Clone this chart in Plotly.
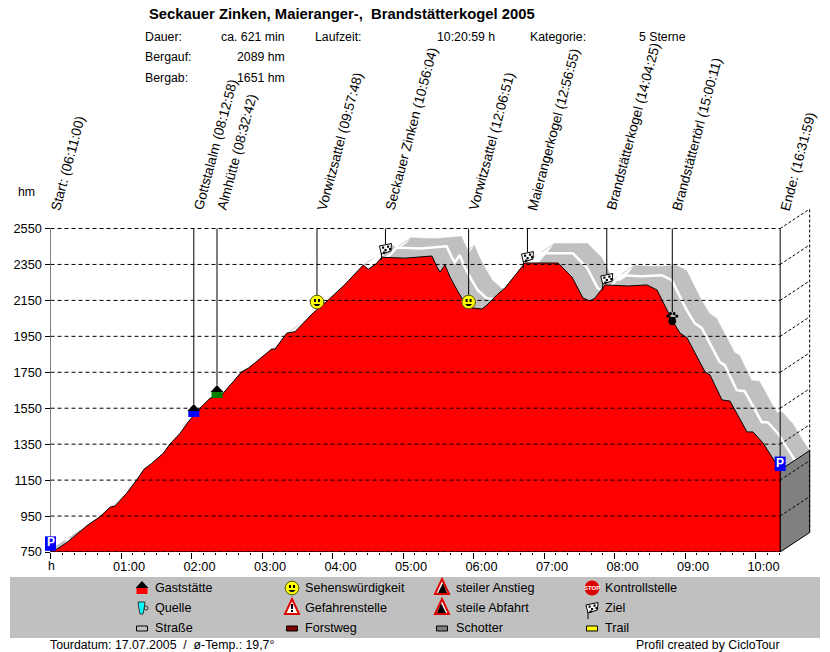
#!/usr/bin/env python3
"""Elevation profile of the Seckauer Zinken tour, CicloTour style."""

import plotly.graph_objects as go

FONT = "Liberation Sans"
W, H = 830, 652

# profile: hours since start, height in hm
profile_hours = [0.0, 0.088, 0.23, 0.395, 0.513, 0.70, 0.844, 0.915, 1.08, 1.223, 1.326, 1.435,
                 1.60, 1.695, 1.837, 1.955, 2.12, 2.262, 2.428, 2.593, 2.712, 2.806, 2.948,
                 3.137, 3.184, 3.35, 3.468, 3.61, 3.728, 3.94, 4.18, 4.437, 4.508, 4.627, 4.698,
                 5.03, 5.41, 5.482, 5.525, 5.596, 5.667, 5.766, 5.851, 5.979, 6.121, 6.191,
                 6.33, 6.447, 6.73, 7.2, 7.397, 7.553, 7.652, 7.723, 7.865, 8.191, 8.46, 8.603,
                 8.674, 8.816, 8.93, 9.03, 9.284, 9.355, 9.525, 9.638, 9.88, 9.965, 10.106,
                 10.277, 10.35]
profile_hm = [762, 765, 802, 854, 895, 946, 999, 1006, 1077, 1151, 1210, 1243,
              1299, 1351, 1410, 1475, 1550, 1605, 1624, 1698, 1753, 1772, 1818,
              1879, 1879, 1967, 1976, 2031, 2081, 2152, 2240, 2347, 2323, 2356, 2390,
              2385, 2397, 2336, 2308, 2347, 2280, 2208, 2152, 2108, 2102, 2124,
              2180, 2219, 2358, 2358, 2280, 2163, 2147, 2163, 2236, 2230, 2236, 2208,
              2152, 2041, 1968, 1941, 1752, 1735, 1596, 1590, 1418, 1418, 1357,
              1246, 1206]

y_ticks = [750, 950, 1150, 1350, 1550, 1750, 1950, 2150, 2350, 2550]
x_ticks = [0, 1, 2, 3, 4, 5, 6, 7, 8, 9, 10]
x_tick_labels = ["", "01:00", "02:00", "03:00", "04:00", "05:00", "06:00", "07:00", "08:00", "09:00", "10:00"]

start_clock = "06:11:00"
event_names = ["Gottstalalm", "Almhütte", "Vorwitzsattel", "Seckauer Zinken", "Vorwitzsattel",
               "Maierangerkogel", "Brandstätterkogel", "Brandstättertörl"]
event_clocks = ["08:12:58", "08:32:42", "09:57:48", "10:56:04", "12:06:51",
                "12:56:55", "14:04:25", "15:00:11"]
event_hm = [1529, 1635, 2141, 2397, 2141, 2352, 2230, 2046]
event_icons = ["house_blue", "house_green", "smile", "flag", "smile", "flag", "flag", "paw"]
end_clock = "16:31:59"

legend_rows = [
    [("house_red", "Gaststätte"), ("smile", "Sehenswürdigkeit"), ("climb", "steiler Anstieg"), ("stop", "Kontrollstelle")],
    [("spring", "Quelle"), ("danger", "Gefahrenstelle"), ("descent", "steile Abfahrt"), ("flag", "Ziel")],
    [("road", "Straße"), ("forest", "Forstweg"), ("gravel", "Schotter"), ("trail", "Trail")],
]

# pixel frame of the drawing
LEFT, BOTTOM = 50.5, 552.0
PX_PER_HOUR = 70.5
PX_PER_HM = 323.5 / 1800
DEPTH_X, DEPTH_Y = 29.5, 19.5
TOP_PX = 206.0
RIGHT_PX = 812.0
TEXT_SIZE = 12.3
LEGEND_SIZE = 12.6
SLANT_SIZE = 13.6
SLANT_ANGLE = -75
SLANT_NUDGE = -2.5
TICK_SIZE = 12.8


def hours(clock):
    h, m, s = [int(p) for p in clock.split(":")]
    h0, m0, s0 = [int(p) for p in start_clock.split(":")]
    return (h + m / 60 + s / 3600) - (h0 + m0 / 60 + s0 / 3600)


def px_x(t):
    return LEFT + t * PX_PER_HOUR


def px_y(e):
    return BOTTOM - (e - 750) * PX_PER_HM


end_t = hours(end_clock)
depth_t = DEPTH_X / PX_PER_HOUR
depth_e = DEPTH_Y / PX_PER_HM

fig = go.Figure()


def line(xs, ys, color="black", width=1, dash=None):
    fig.add_trace(go.Scatter(x=xs, y=ys, mode="lines", hoverinfo="skip", showlegend=False,
                             line=dict(color=color, width=width, dash=dash)))


def band(color, dt, de):
    # one quad per profile segment so that overlaps in the valleys stay filled
    xs, ys = [], []
    for i in range(len(profile_hours) - 1):
        t0, t1 = profile_hours[i], profile_hours[i + 1]
        e0, e1 = profile_hm[i], profile_hm[i + 1]
        xs += [t0, t1, t1 + dt, t0 + dt, t0, None]
        ys += [e0, e1, e1 + de, e0 + de, e0, None]
    fig.add_trace(go.Scatter(x=xs, y=ys, mode="lines", fill="toself", fillcolor=color, hoverinfo="skip",
                             showlegend=False, line=dict(color=color, width=0.5)))


# road surface behind the profile
band("#C0C0C0", depth_t, depth_e)
line([t + depth_t * 0.5 for t in profile_hours], [e + depth_e * 0.5 for e in profile_hm], "white", 2.5)

# right wall
fig.add_trace(go.Scatter(x=[end_t, end_t + depth_t, end_t + depth_t, end_t, end_t],
                         y=[profile_hm[-1], profile_hm[-1] + depth_e, 750 + depth_e, 750, profile_hm[-1]],
                         mode="lines", fill="toself", fillcolor="#808080", hoverinfo="skip",
                         showlegend=False, line=dict(color="black", width=1)))

# the profile itself
fig.add_trace(go.Scatter(x=profile_hours, y=profile_hm, mode="lines", fill="tozeroy", fillcolor="#FF0000",
                         hoverinfo="skip", showlegend=False, line=dict(color="black", width=1)))

# grid on top of everything, also running back along the side
for v in y_ticks:
    line([0, end_t], [v, v], dash="4px,3px")
    if v > 750:
        line([end_t, end_t + depth_t], [v, v + depth_e], dash="3px,2px")
line([end_t + depth_t, end_t + depth_t], [750 + depth_e, 2550 + depth_e], dash="3px,2px")
line([0, end_t], [750, 750])
line([0, 0], [750, 2550])
line([end_t, end_t], [750, 2550])

shapes = []
texts = []


def X(px):
    return px / W


def Y(py):
    return 1 - py / H


def note(x, y, text, size=TEXT_SIZE, xanchor="left", yanchor="middle", bold=False, angle=0, color="black"):
    if bold:
        text = "<b>" + text + "</b>"
    texts.append(dict(x=X(x), y=Y(y), xref="paper", yref="paper", text=text, showarrow=False,
                      xanchor=xanchor, yanchor=yanchor, textangle=angle, borderpad=0, borderwidth=0,
                      font=dict(family=FONT, size=size, color=color)))


def slanted(x, text):
    note(x + SLANT_NUDGE, 212, text, size=SLANT_SIZE, xanchor="left", yanchor="bottom", angle=SLANT_ANGLE)


def poly(pts, fill="black", edge=None, width=1):
    path = "M " + " L ".join(f"{X(a):.5f} {Y(b):.5f}" for a, b in pts) + " Z"
    shapes.append(dict(type="path", path=path, xref="paper", yref="paper", fillcolor=fill,
                       line=dict(color=edge if edge else fill, width=width if edge else 0)))


def disc(cx, cy, r, fill, edge=None, width=1):
    shapes.append(dict(type="circle", xref="paper", yref="paper",
                       x0=X(cx - r), x1=X(cx + r), y0=Y(cy + r), y1=Y(cy - r), fillcolor=fill,
                       line=dict(color=edge if edge else fill, width=width if edge else 0)))


def box(x0, y0, x1, y1, fill, edge=None, width=1):
    poly([(x0, y0), (x1, y0), (x1, y1), (x0, y1)], fill, edge, width)


def icon(kind, cx, cy):
    if kind.startswith("house"):
        base = {"house_blue": "#0000FF", "house_green": "#008000", "house_red": "#FF0000"}[kind]
        box(cx - 5.5, cy, cx + 5.5, cy + 6, base)
        poly([(cx, cy - 7), (cx + 6.5, cy), (cx - 6.5, cy)])
    elif kind == "smile":
        disc(cx, cy, 6.8, "#FFFF00", "#555500", 1)
        box(cx - 3, cy - 3, cx - 1, cy, "black")
        box(cx + 1, cy - 3, cx + 3, cy, "black")
        poly([(cx - 3.5, cy + 2), (cx + 3.5, cy + 2), (cx + 1.5, cy + 4), (cx - 1.5, cy + 4)], "black")
    elif kind == "flag":
        poly([(cx - 4.5, cy + 4), (cx - 3.5, cy + 4), (cx - 3.5, cy + 11), (cx - 4.5, cy + 11)])
        poly([(cx - 6, cy - 3), (cx + 6, cy - 5.5), (cx + 5.5, cy + 2), (cx - 4, cy + 5)], "white", "black", 1)
        for a, b in [(-3.5, -2.5), (1.5, -3.5), (-1, 0), (3.5, -1), (-2.5, 2.5)]:
            box(cx + a, cy + b, cx + a + 2.2, cy + b + 2.2, "black")
    elif kind == "paw":
        poly([(cx - 3, cy - 2), (cx + 3, cy - 2), (cx + 4, cy + 3), (cx + 2, cy + 6), (cx - 2, cy + 6), (cx - 4, cy + 3)])
        disc(cx - 4.5, cy - 3, 1.6, "black")
        disc(cx - 1.8, cy - 5.5, 1.6, "black")
        disc(cx + 1.8, cy - 5.5, 1.6, "black")
        disc(cx + 4.5, cy - 3, 1.6, "black")
    elif kind == "parking":
        box(cx - 5.5, cy - 7.5, cx + 5.5, cy + 7, "#0000FF")
        note(cx, cy - 1.5, "P", size=12, xanchor="center", bold=True, color="white")
    elif kind == "spring":
        disc(cx + 4, cy, 2, "#C0C0C0", "#333333", 1)
        poly([(cx - 4, cy - 6), (cx + 3, cy - 6), (cx + 2, cy + 1), (cx + 1, cy + 6), (cx - 2, cy + 6), (cx - 3, cy + 1)],
             "#00FFFF", "#333333", 1)
    elif kind == "danger":
        poly([(cx, cy - 9), (cx + 7, cy + 6), (cx - 7, cy + 6)], "white", "#DD0000", 2)
        box(cx - 1, cy - 4, cx + 1, cy + 1, "black")
        box(cx - 1, cy + 2, cx + 1, cy + 4, "black")
    elif kind in ("climb", "descent"):
        poly([(cx, cy - 9), (cx + 7, cy + 6), (cx - 7, cy + 6)], "white", "#DD0000", 2)
        if kind == "climb":
            poly([(cx - 4, cy + 5), (cx + 1, cy - 5), (cx + 5, cy + 5)])
        else:
            poly([(cx - 1, cy - 5), (cx + 4, cy + 5), (cx - 5, cy + 5)])
    elif kind == "stop":
        disc(cx, cy, 7.5, "#DD0000")
        note(cx, cy, "STOP", size=6, xanchor="center", bold=True, color="white")
    else:
        fill = {"road": "#C0C0C0", "forest": "#800000", "gravel": "#808080", "trail": "#FFFF00"}[kind]
        box(cx - 5.5, cy - 2, cx + 5.5, cy + 3, fill, "black", 1)


# grey legend panel
box(10, 577, 820, 638, "#C0C0C0")

# stems with their icons and slanted labels
slanted(LEFT, f"Start: ({start_clock})")
for name, clock, e, kind in zip(event_names, event_clocks, event_hm, event_icons):
    t = hours(clock)
    x, y = px_x(t), px_y(e)
    if kind.startswith("house"):
        cy = y - 1
        top = cy - 7
    elif kind == "smile":
        cy = y
        top = cy - 7
    elif kind == "flag":
        cy = y - 7
        top = cy - 5
    else:
        cy = y
        top = cy - 7
    line([t, t], [2550, 750 + (BOTTOM - top) / PX_PER_HM])
    icon(kind, x, cy)
    slanted(x, f"{name} ({clock})")
slanted(px_x(end_t), f"Ende: ({end_clock})")
icon("parking", px_x(0), px_y(profile_hm[0]) - 6)
icon("parking", px_x(end_t), px_y(profile_hm[-1]) - 6)

# header block
note(149, 13.5, "Seckauer Zinken, Maieranger-,  Brandstätterkogel 2005", size=14.8, bold=True)
note(145, 37.5, "Dauer:")
note(145, 57.5, "Bergauf:")
note(145, 77.5, "Bergab:")
note(285, 37.5, "ca. 621 min", xanchor="right")
note(285, 57.5, "2089 hm", xanchor="right")
note(285, 77.5, "1651 hm", xanchor="right")
note(315, 37.5, "Laufzeit:")
note(437, 37.5, "10:20:59 h")
note(530, 37.5, "Kategorie:")
note(639, 37.5, "5 Sterne")
note(18, 192, "hm")
note(51.5, 566, "h", xanchor="center")

# legend and footer
for row, cy in zip(legend_rows, [588, 608, 628]):
    for (kind, label), cx, tx in zip(row, [142, 292, 442, 592], [155, 305, 455.5, 605]):
        icon(kind, cx, cy)
        note(tx, cy - 0.5, label, size=LEGEND_SIZE)
note(50, 645, "Tourdatum: 17.07.2005  /  ø-Temp.: 19,7°")
note(780, 645, "Profil created by CicloTour", xanchor="right")

minor_ticks = [i / 6 for i in range(63) if i % 6 != 0]

fig.update_layout(
    width=W, height=H, autosize=False, margin=dict(l=0, r=0, t=0, b=0, pad=0, autoexpand=False),
    paper_bgcolor="white", plot_bgcolor="rgba(0,0,0,0)", showlegend=False,
    font=dict(family=FONT, size=12, color="black"),
    shapes=shapes, annotations=texts,
    xaxis=dict(domain=[LEFT / W, RIGHT_PX / W], range=[0, (RIGHT_PX - LEFT) / PX_PER_HOUR],
               tickmode="array", tickvals=x_ticks, ticktext=x_tick_labels, ticks="outside", ticklen=6,
               tickcolor="black", showgrid=False, zeroline=False, showline=False, ticklabelshift=8,
               ticklabelstandoff=-3, automargin=False,
               tickfont=dict(family=FONT, size=TICK_SIZE, color="black"), fixedrange=True,
               minor=dict(tickmode="array", tickvals=minor_ticks, ticks="outside", ticklen=2,
                          tickcolor="black", showgrid=False)),
    yaxis=dict(domain=[1 - BOTTOM / H, 1 - TOP_PX / H],
               range=[750, 750 + (BOTTOM - TOP_PX) / PX_PER_HM],
               tickmode="array", tickvals=y_ticks, ticktext=[str(v) for v in y_ticks], ticks="outside",
               ticklen=5, tickcolor="black", showgrid=False, zeroline=False, showline=False, automargin=False,
               tickfont=dict(family=FONT, size=TICK_SIZE, color="black"), fixedrange=True),
)

# the browser's default body margin would push the figure off the 830x652 window
fig.write_html("out.html", config=dict(displayModeBar=False),
               post_script="document.body.style.margin = '0'; document.documentElement.style.overflow = 'hidden';")
